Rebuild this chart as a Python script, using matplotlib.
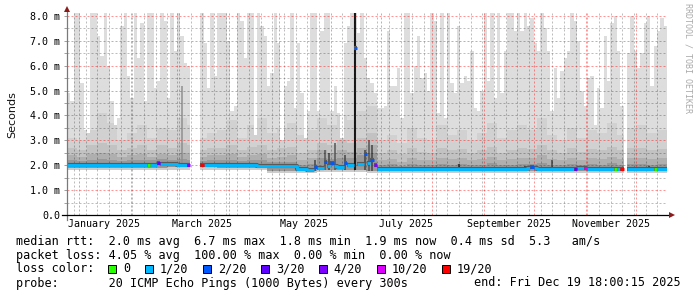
import numpy as np
import matplotlib
matplotlib.use("Agg")
import matplotlib.pyplot as plt
import matplotlib.dates as mdates
from matplotlib.patches import Rectangle
from matplotlib.ticker import FixedLocator, MultipleLocator, NullFormatter

W, H, DPI = 697, 297, 100
MONO = "DejaVu Sans Mono"

# ---------------- data ----------------
start = np.datetime64("2024-12-24T18:00")
end = np.datetime64("2025-12-19T18:00")
bin_hours = 48  # smoke_max resolution

nan = float("nan")
# highest ping per 2-day bin (light smoke top), nan = no data
smoke_max = [
    4.9, 4.6, 8.1, 8.1, 5.3, 3.4, 3.3, 8.1, 8.1, 7.2,
    6.4, 8.1, 6.0, 4.6, 3.6, 3.9, 7.6, 8.1, 5.6, 4.7,
    8.1, 6.3, 7.7, 4.6, 8.1, 8.1, 5.1, 5.4, 8.1, 7.8,
    4.7, 8.1, 6.6, 8.1, 7.2, 6.1, 6.0, nan, nan, nan,
    8.1, 6.9, 5.1, 8.1, 5.6, 8.1, 8.1, 8.1, 7.0, 4.2,
    4.4, 8.1, 7.8, 6.3, 8.1, 8.1, 3.2, 8.1, 7.6, 7.2,
    5.2, 5.7, 8.1, 6.9, 3.0, 5.2, 5.4, 8.1, 4.3, 6.9,
    4.9, 3.1, 4.2, 8.1, 8.1, 4.2, 7.4, 8.1, 8.1, 4.2,
    5.2, 4.1, 3.1, 6.9, 7.6, 8.1, 8.1, 7.3, 8.1, 6.3,
    5.5, 5.3, 4.9, 4.3, 4.3, 4.4, 7.4, 5.2, 5.2, 5.9,
    3.9, 8.1, 8.1, 4.9, 6.0, 7.2, 5.5, 5.7, 5.0, 8.1,
    7.8, 4.1, 8.1, 3.9, 8.1, 5.3, 4.9, 7.6, 5.3, 5.6,
    5.4, 6.6, 4.3, 4.2, 5.0, 8.1, 5.4, 8.1, 4.7, 8.1,
    4.9, 6.6, 8.1, 8.1, 7.4, 8.1, 7.4, 8.1, 7.6, 7.9,
    6.9, 6.6, 8.1, 7.5, 6.6, 4.2, 5.9, 4.7, 5.8, 6.3,
    6.6, 8.1, 7.8, 7.0, 5.0, 4.4, 5.5, 5.6, 3.6, 5.1,
    4.3, 7.2, 5.4, 7.7, 8.0, 6.6, 4.4, nan, 6.5, 8.0,
    6.6, 5.9, 6.5, 7.7, 8.0, 5.2, 6.8, 7.4, 7.9, 7.6,
]

# inner smoke levels per 6-day bin
smoke_p2 = [
    3.1, 3.0, 3.4, 4.1, 3.7, 3.0, 3.3, 3.6, 3.1, 3.5, 3.4, 3.9,
    3.6, 3.1, 3.3,
    3.4, 3.8, 3.1, 3.6, 3.9, 3.3, 3.5, 3.7, 3.2, 3.4, 3.9, 3.6, 4.0, 3.8, 4.2,
    4.4, 3.0, 3.2, 2.9, 3.5, 3.1, 3.0, 3.6, 3.2, 3.4, 3.0, 3.3, 3.7, 3.1, 3.4,
    3.6, 3.4, 3.9, 3.2, 3.0, 3.5, 3.1, 3.4, 3.3, 3.7, 3.2, 3.5, 3.6, 3.3, 3.4,
]
smoke_p3 = [
    2.7, 2.6, 2.8, 2.9, 2.8, 2.6, 2.7, 2.8, 2.6, 2.8, 2.7, 2.9,
    2.8, 2.6, 2.7,
    2.7, 2.8, 2.6, 2.75, 2.8, 2.6, 2.7, 2.75, 2.5, 2.6, 2.9, 2.8, 3.0, 2.9, 3.1,
    3.3, 2.5, 2.6, 2.45, 2.7, 2.55, 2.5, 2.7, 2.6, 2.65, 2.5, 2.6, 2.75, 2.5, 2.6,
    2.7, 2.65, 2.8, 2.6, 2.5, 2.7, 2.55, 2.65, 2.6, 2.75, 2.6, 2.7, 2.7, 2.6, 2.65,
]
smoke_p4 = [
    2.4, 2.35, 2.45, 2.5, 2.45, 2.35, 2.4, 2.45, 2.35, 2.45, 2.4, 2.5,
    2.45, 2.35, 2.4,
    2.4, 2.45, 2.35, 2.4, 2.45, 2.3, 2.35, 2.4, 2.2, 2.3, 2.6, 2.5, 2.6, 2.55, 2.7,
    2.8, 2.2, 2.25, 2.15, 2.3, 2.2, 2.2, 2.3, 2.25, 2.3, 2.2, 2.25, 2.35, 2.2, 2.25,
    2.3, 2.3, 2.4, 2.25, 2.2, 2.3, 2.2, 2.3, 2.25, 2.35, 2.25, 2.3, 2.3, 2.25, 2.3,
]
smoke_p5 = [
    2.2, 2.18, 2.22, 2.25, 2.2, 2.18, 2.2, 2.22, 2.2, 2.25, 2.22, 2.25,
    2.22, 2.18, 2.2,
    2.2, 2.22, 2.18, 2.2, 2.22, 2.12, 2.15, 2.15, 2.0, 2.05, 2.3, 2.25, 2.3, 2.3, 2.4,
    2.5, 2.0, 2.05, 1.98, 2.05, 2.0, 2.0, 2.05, 2.0, 2.05, 2.0, 2.02, 2.08, 2.0, 2.02,
    2.05, 2.05, 2.1, 2.02, 2.0, 2.05, 2.0, 2.05, 2.02, 2.08, 2.02, 2.05, 2.05, 2.02, 2.05,
]
median_rtt = [
    2.0, 2.0, 2.0, 2.01, 2.0, 2.0, 2.0, 2.0, 2.02, 2.06, 2.04, 2.03,
    2.03, 2.0, 2.0,
    2.0, 2.0, 2.0, 2.0, 1.98, 1.97, 1.96, 1.95, 1.84, 1.82, 1.9, 1.95, 1.93, 2.0, 2.05,
    2.08, 1.84, 1.83, 1.83, 1.83, 1.83, 1.83, 1.83, 1.84, 1.85, 1.86, 1.86, 1.86, 1.86, 1.86,
    1.86, 1.87, 1.86, 1.86, 1.85, 1.86, 1.87, 1.86, 1.86, 1.86, 1.85, 1.86, 1.86, 1.86, 1.86,
]
# lowest pings, per 30-day bin
low_inner = [1.9, 1.9, 1.92, 1.9, 1.76, 1.8, 1.76, 1.76, 1.77, 1.77, 1.77, 1.77]
low_outer = [1.8, 1.8, 1.82, 1.8, 1.68, 1.72, 1.7, 1.7, 1.7, 1.7, 1.7, 1.7]

loss_labels = ["0", "1/20", "2/20", "3/20", "4/20", "10/20", "19/20"]
loss_colors = ["#26ff00", "#00b8ff", "#0059ff", "#5e00ff", "#7e00ff", "#dd00ff", "#ff0000"]
base_loss = 1  # most bins: 1/20

# bins whose loss differs from 1/20
event_bins = [24, 27, 36, 40, 74, 77, 79, 83, 86, 89, 91, 92, 139, 152, 155, 164, 166, 176]
event_rtt = [2.0, 2.08, 2.03, 2.03, 1.92, 2.12, 2.08, 2.1, 6.7, 2.45, 2.2, 2.0,
             1.92, 1.86, 1.88, 1.86, 1.86, 1.86]
event_loss = [0, 3, 4, 6, 2, 2, 2, 2, 2, 2, 2, 4, 2, 3, 5, 0, 6, 0]

# dark narrow smoke columns
spike_bins = [34, 74, 77, 78, 80, 83, 86, 89, 90, 91, 117, 137, 145, 174]
spike_top = [5.2, 2.2, 2.6, 2.5, 2.9, 2.4, 8.1, 2.6, 3.0, 2.8, 2.05, 1.98, 2.22, 1.98]
spike_color = ["#8f8f8f", "#444444", "#555555", "#444444", "#555555", "#444444", "#1a1a1a",
               "#444444", "#555555", "#444444", "#222222", "#333333", "#444444", "#333333"]

xtick_months = ["2025-01", "2025-03", "2025-05", "2025-07", "2025-09", "2025-11"]
xtick_labels = ["January 2025", "March 2025", "May 2025", "July 2025",
                "September 2025", "November 2025"]
ytick_vals = [0, 1, 2, 3, 4, 5, 6, 7, 8]
ytick_labels = ["0.0", "1.0 m", "2.0 m", "3.0 m", "4.0 m", "5.0 m", "6.0 m", "7.0 m", "8.0 m"]

legend_lines = [
    "median rtt:  2.0 ms avg  6.7 ms max  1.8 ms min  1.9 ms now  0.4 ms sd  5.3   am/s",
    "packet loss: 4.05 % avg  100.00 % max  0.00 % min  0.00 % now",
    "loss color:",
    "probe:       20 ICMP Echo Pings (1000 Bytes) every 300s",
]
end_text = "end: Fri Dec 19 18:00:15 2025"
watermark = "RRDTOOL / TOBI OETIKER"

# ---------------- figure ----------------
fig = plt.figure(figsize=(W / DPI, H / DPI), dpi=DPI, facecolor="white")
ax = fig.add_axes([67 / W, (H - 215) / H, 600 / W, 202 / H])
ax.set_facecolor("white")

n = len(smoke_max)
edges = start + np.arange(n + 1) * np.timedelta64(bin_hours, "h")
xe = mdates.date2num(edges)
top = np.array(smoke_max, float)
valid = ~np.isnan(top)


def fine(coarse):
    arr = np.repeat(np.asarray(coarse, float), n // len(coarse))
    arr[~valid] = np.nan
    return arr


xs_step = np.repeat(xe, 2)[1:-1]


def step_fill(lo, hi, color, z=1):
    ax.fill_between(xs_step, np.repeat(lo, 2), np.repeat(hi, 2), color=color,
                    lw=0, zorder=z)


lin = fine(low_inner)
lout = fine(low_outer)
p2 = np.minimum(fine(smoke_p2), top)
p3 = np.minimum(fine(smoke_p3), top)
p4 = np.minimum(fine(smoke_p4), top)
p5 = np.minimum(fine(smoke_p5), top)
med = fine(median_rtt)

step_fill(lout, lin, "#cdcdcd")
step_fill(lin, top, "#dddddd")
step_fill(lin, p2, "#d1d1d1")
step_fill(lin, p3, "#c2c2c2")
step_fill(lin, p4, "#afafaf")
step_fill(lin, p5, "#999999")

# dark columns
for b, t, c in zip(spike_bins, spike_top, spike_color):
    xc = 0.5 * (xe[b] + xe[b + 1])
    lw = 1.5 if b == 86 else 1.1
    ax.vlines(xc, lin[b], t, colors=c, lw=lw, zorder=1.5)

# median line (bins with other loss are drawn separately)
med_line = med.copy()
for b in event_bins:
    med_line[b] = np.nan
ax.plot(xs_step, np.repeat(med_line, 2), color="#5a5a5a", lw=3.0, zorder=3,
        solid_capstyle="butt")
ax.plot(xs_step, np.repeat(med_line, 2), color=loss_colors[base_loss], lw=2.1,
        zorder=4, solid_capstyle="butt")
for b, r, l in zip(event_bins, event_rtt, event_loss):
    ax.hlines(r, xe[b], xe[b + 1], colors="#5a5a5a", lw=3.0, zorder=4.5)
    ax.hlines(r, xe[b], xe[b + 1], colors=loss_colors[l], lw=2.1, zorder=5)

# axes limits & grid
ax.set_xlim(mdates.date2num(start), mdates.date2num(end))
ax.set_ylim(0, 8.12)
ax.xaxis.set_major_locator(mdates.MonthLocator())
ax.xaxis.set_minor_locator(mdates.WeekdayLocator(byweekday=mdates.SU))
ax.xaxis.set_major_formatter(NullFormatter())
ax.yaxis.set_major_locator(FixedLocator(ytick_vals))
ax.yaxis.set_minor_locator(MultipleLocator(0.5))
ax.set_yticklabels(ytick_labels, family=MONO, fontsize=7.2)
ax.set_axisbelow(False)
ax.grid(which="major", color="#ff0000", alpha=0.42, lw=0.72, dashes=(2, 2))
ax.grid(which="minor", color="#000000", alpha=0.26, lw=0.72, dashes=(2, 2))
ax.tick_params(axis="y", which="both", length=2.5, width=0.7, color="#a0a0a0", pad=2.3)
ax.tick_params(axis="x", which="both", length=0)
for s in ax.spines.values():
    s.set_visible(False)

# axis lines with arrows
ax.plot([0, 0], [-0.025, 1.012], transform=ax.transAxes, color="#7a7a7a", lw=0.9,
        clip_on=False, zorder=6)
ax.plot([-0.008, 1.006], [0, 0], transform=ax.transAxes, color="#000000", lw=0.9,
        clip_on=False, zorder=6)
ax.plot([0], [1.022], marker="^", ms=5, color="#8b1a1a", transform=ax.transAxes,
        clip_on=False, zorder=7, mew=0)
ax.plot([1.0085], [0], marker=">", ms=5, color="#8b1a1a", transform=ax.transAxes,
        clip_on=False, zorder=7, mew=0)

# x labels centred mid-month
for m, lab in zip(xtick_months, xtick_labels):
    xd = mdates.date2num(np.datetime64(m + "-16"))
    ax.text(xd, -0.022, lab, transform=ax.get_xaxis_transform(), ha="center",
            va="top", family=MONO, fontsize=7.2, color="black")

# y axis title and watermark
fig.text(12 / W, 1 - 115 / H, "Seconds", rotation=90, ha="center", va="center",
         family="DejaVu Sans", fontsize=8, color="#111111")
fig.text(688 / W, 1 - 58 / H, watermark, rotation=270, ha="center", va="center",
         family=MONO, fontsize=6, color="#aaaaaa")

# legend
char_w = 7.12
baselines = [244.5, 258.5, 272.5, 286.5]
for txt, bl in zip(legend_lines, baselines):
    fig.text(16 / W, 1 - bl / H, txt, family=MONO, fontsize=8.5, va="baseline",
             ha="left", color="black")
fig.text(681 / W, 1 - baselines[3] / H, end_text, family=MONO, fontsize=8.5,
         va="baseline", ha="right", color="black")
x = 108.3
bl = baselines[2]
for lab, col in zip(loss_labels, loss_colors):
    fig.patches.append(Rectangle((x / W, 1 - (bl + 0.5) / H), 8 / W, 8 / H,
                                 transform=fig.transFigure, facecolor=col,
                                 edgecolor="black", lw=0.7))
    fig.text((x + 15) / W, 1 - bl / H, lab, family=MONO, fontsize=8.5,
             va="baseline", ha="left", color="black")
    x = x + 15 + len(lab) * char_w + 14.5

fig.savefig("out.png", dpi=DPI, facecolor="white")
